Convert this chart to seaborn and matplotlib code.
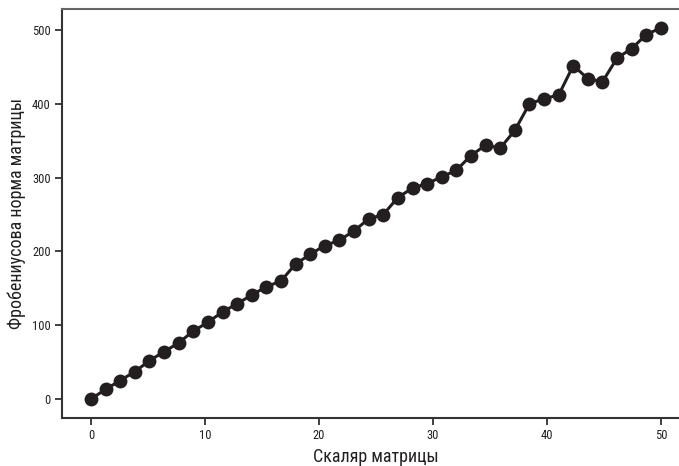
import numpy as np
import pandas as pd
import matplotlib
matplotlib.use("Agg")
import matplotlib.pyplot as plt
import seaborn as sns
from matplotlib import font_manager

# scalar values on the x axis (40 evenly spaced points from 0 to 50)
scalars = [0.0, 1.28, 2.56, 3.85, 5.13, 6.41, 7.69, 8.97, 10.26, 11.54,
           12.82, 14.10, 15.38, 16.67, 17.95, 19.23, 20.51, 21.79, 23.08, 24.36,
           25.64, 26.92, 28.21, 29.49, 30.77, 32.05, 33.33, 34.62, 35.90, 37.18,
           38.46, 39.74, 41.03, 42.31, 43.59, 44.87, 46.15, 47.44, 48.72, 50.0]

# Frobenius norm
norms = [0, 13, 25, 37, 52, 64, 76, 92, 104, 118,
         129, 141, 152, 160, 183, 196, 208, 215, 228, 244,
         250, 273, 286, 292, 301, 310, 330, 344, 340, 364,
         400, 407, 412, 452, 434, 430, 462, 475, 494, 503]

x_label = "Скаляр матрицы"
y_label = "Фробениусова норма матрицы"

df = pd.DataFrame({"scalar": scalars, "norm": norms})

sns.set_style("ticks")
names = {f.name for f in font_manager.fontManager.ttflist}
fams = [f for f in ["Ubuntu Condensed", "Roboto Condensed", "Liberation Sans Narrow",
                    "Open Sans Condensed", "DejaVu Sans Condensed", "DejaVu Sans"] if f in names]
plt.rcParams["font.family"] = fams

fig = plt.figure(figsize=(6.79, 4.66), dpi=100)
ax = fig.add_axes([0.0920, 0.104, 0.9234, 0.876])

sns.lineplot(data=df, x="scalar", y="norm", ax=ax, color="#231f20",
             linewidth=2.2, marker="o", markersize=10, markeredgewidth=0)

ax.set_xlabel(x_label, fontsize=13, color="#231f20")
ax.set_ylabel(y_label, fontsize=13, color="#231f20")
ax.set_xticks([0, 10, 20, 30, 40, 50])
ax.set_yticks([0, 100, 200, 300, 400, 500])
ax.tick_params(labelsize=9, colors="#231f20", length=5, width=1.2)
for s in ax.spines.values():
    s.set_color("#333333")
    s.set_linewidth(1.5)
ax.spines["top"].set_color("#666666")
ax.spines["right"].set_visible(False)

fig.savefig("out.png", dpi=100)
